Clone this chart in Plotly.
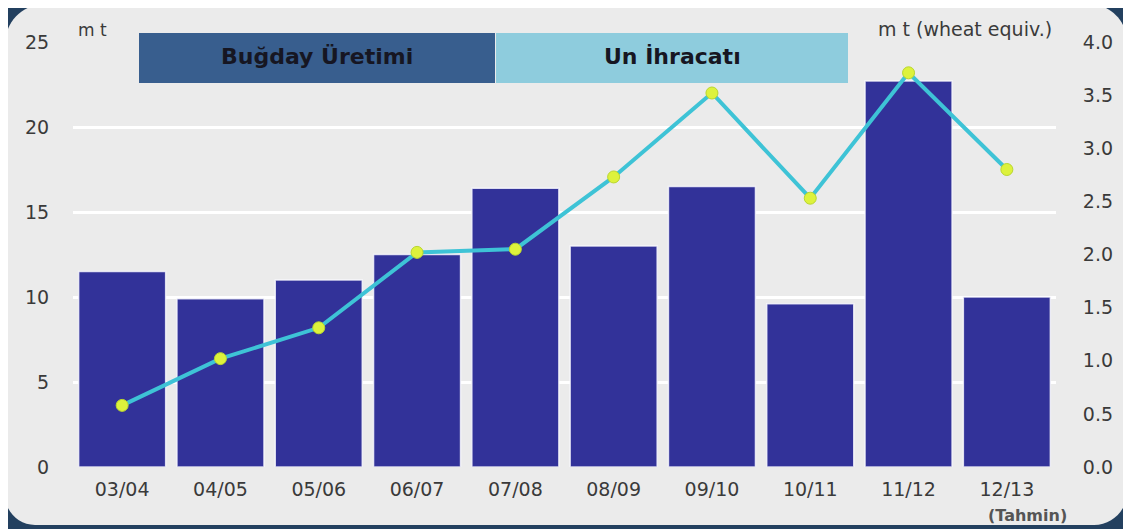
import plotly.graph_objects as go

# ---- data ----
seasons = ["03/04", "04/05", "05/06", "06/07", "07/08", "08/09", "09/10", "10/11", "11/12", "12/13"]
wheat_production = [11.5, 9.9, 11.0, 12.5, 16.4, 13.0, 16.5, 9.6, 22.7, 10.0]   # m t (left axis)
flour_exports = [0.58, 1.02, 1.31, 2.02, 2.05, 2.73, 3.52, 2.53, 3.71, 2.80]    # m t wheat equiv. (right axis)
left_ticks = [0, 5, 10, 15, 20, 25]
right_ticks = [0.0, 0.5, 1.0, 1.5, 2.0, 2.5, 3.0, 3.5, 4.0]
legend_labels = ["Buğday Üretimi", "Un İhracatı"]

# ---- layout geometry ----
# The page puts the figure 8 px in from the top-left corner of the window,
# so the figure is made 8 px smaller and every window position is shifted.
OFF = 8
W, H = 1131 - OFF, 529 - OFF
PLOT_L, PLOT_R, PLOT_T, PLOT_B = 73, 1056, 42, 467          # window pixels
L, R, T, B = PLOT_L - OFF, W - (PLOT_R - OFF), PLOT_T - OFF, H - (PLOT_B - OFF)
PW = PLOT_R - PLOT_L
PH = PLOT_B - PLOT_T


def px(x):
    return (x - PLOT_L) / PW


def py(y):
    return (PLOT_B - y) / PH


def rounded_panel(x0, y0, x1, y1, rtl, rtr, rbr, rbl):
    k = 0.5523
    pts = [
        f"M {px(x0 + rtl)},{py(y0)}",
        f"L {px(x1 - rtr)},{py(y0)}",
        f"C {px(x1 - rtr + k * rtr)},{py(y0)} {px(x1)},{py(y0 + rtr - k * rtr)} {px(x1)},{py(y0 + rtr)}",
        f"L {px(x1)},{py(y1 - rbr)}",
        f"C {px(x1)},{py(y1 - rbr + k * rbr)} {px(x1 - rbr + k * rbr)},{py(y1)} {px(x1 - rbr)},{py(y1)}",
        f"L {px(x0 + rbl)},{py(y1)}",
        f"C {px(x0 + rbl - k * rbl)},{py(y1)} {px(x0)},{py(y1 - rbl + k * rbl)} {px(x0)},{py(y1 - rbl)}",
        f"L {px(x0)},{py(y0 + rtl)}",
        f"C {px(x0)},{py(y0 + rtl - k * rtl)} {px(x0 + rtl - k * rtl)},{py(y0)} {px(x0 + rtl)},{py(y0)}",
        "Z",
    ]
    return " ".join(pts)


fig = go.Figure()

fig.add_trace(go.Bar(
    x=seasons, y=wheat_production, name=legend_labels[0],
    marker=dict(color="#323299", line=dict(color="rgba(250,250,255,0.8)", width=1.5)),
    yaxis="y", showlegend=False,
))

fig.add_trace(go.Scatter(
    x=seasons, y=flour_exports, name=legend_labels[1], mode="lines+markers",
    line=dict(color="#3EC3D6", width=4),
    marker=dict(color="#DDF23C", size=12, line=dict(color="#B9D62E", width=1)),
    yaxis="y2", showlegend=False,
))

tick_font = dict(family="DejaVu Sans", size=19, color="#3A3A3A")

shapes = [
    dict(type="path", xref="paper", yref="paper", layer="below",
         path=rounded_panel(5, 4, 1127, 525, 40, 38, 33, 30),
         fillcolor="#EBEBEB", line=dict(width=0)),
    dict(type="rect", xref="paper", yref="paper", layer="above",
         x0=px(139), x1=px(495), y0=py(83), y1=py(33),
         fillcolor="#385E8E", line=dict(width=0)),
    dict(type="rect", xref="paper", yref="paper", layer="above",
         x0=px(496), x1=px(848), y0=py(83), y1=py(33),
         fillcolor="#8ECCDD", line=dict(width=0)),
]

box_font = dict(family="DejaVu Sans", size=22, color="#161622")
annotations = [
    dict(text="<b>" + legend_labels[0] + "</b>", xref="paper", yref="paper",
         x=px(317), y=py(56), xanchor="center", yanchor="middle", showarrow=False, font=box_font),
    dict(text="<b>" + legend_labels[1] + "</b>", xref="paper", yref="paper",
         x=px(672), y=py(56), xanchor="center", yanchor="middle", showarrow=False, font=box_font),
    dict(text="m t", xref="paper", yref="paper", x=px(76), y=py(30),
         xanchor="left", yanchor="middle", showarrow=False,
         font=dict(family="DejaVu Sans", size=17, color="#3A3A3A")),
    dict(text="m t (wheat equiv.)", xref="paper", yref="paper", x=px(1054), y=py(29),
         xanchor="right", yanchor="middle", showarrow=False,
         font=dict(family="DejaVu Sans", size=19, color="#3A3A3A")),
    dict(text="<b>(Tahmin)</b>", xref="paper", yref="paper", x=px(1027), y=py(515),
         xanchor="center", yanchor="middle", showarrow=False,
         font=dict(family="DejaVu Sans", size=16, color="#555555")),
]

fig.update_layout(
    width=W, height=H,
    margin=dict(l=L, r=R, t=T, b=B, pad=0),
    paper_bgcolor="#23405F",
    plot_bgcolor="rgba(0,0,0,0)",
    bargap=0.115,
    shapes=shapes,
    annotations=annotations,
    xaxis=dict(
        type="category", showgrid=False, zeroline=False, showline=False,
        ticks="outside", ticklen=5, tickcolor="rgba(0,0,0,0)",
        tickfont=tick_font, range=[-0.5, len(seasons) - 0.5],
    ),
    yaxis=dict(
        range=[0, 25], tickvals=left_ticks, ticktext=[str(v) for v in left_ticks],
        showgrid=True, gridcolor="#FFFFFF", gridwidth=3, zeroline=False, showline=False,
        ticks="outside", ticklen=19, tickcolor="rgba(0,0,0,0)", tickfont=tick_font,
    ),
    yaxis2=dict(
        range=[0, 4], overlaying="y", side="right",
        tickvals=right_ticks, ticktext=[f"{v:.1f}" for v in right_ticks],
        showgrid=False, zeroline=False, showline=False,
        ticks="outside", ticklen=22, tickcolor="rgba(0,0,0,0)", tickfont=tick_font,
    ),
)

fig.write_html("out.html")
